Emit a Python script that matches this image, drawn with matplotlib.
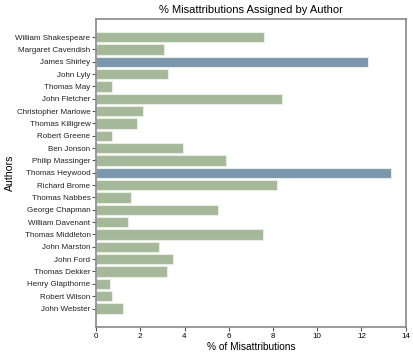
import matplotlib
matplotlib.use("Agg")
import matplotlib.pyplot as plt
import numpy as np

authors = ["William Shakespeare", "Margaret Cavendish", "James Shirley", "John Lyly",
           "Thomas May", "John Fletcher", "Christopher Marlowe", "Thomas Killigrew",
           "Robert Greene", "Ben Jonson", "Philip Massinger", "Thomas Heywood",
           "Richard Brome", "Thomas Nabbes", "George Chapman", "William Davenant",
           "Thomas Middleton", "John Marston", "John Ford", "Thomas Dekker",
           "Henry Glapthorne", "Robert Wilson", "John Webster"]
pct = [7.6, 3.08, 12.28, 3.26, 0.72, 8.42, 2.11, 1.87, 0.71, 3.94, 5.89, 13.35,
       8.16, 1.57, 5.53, 1.45, 7.54, 2.85, 3.5, 3.2, 0.65, 0.72, 1.24]
highlight = ["James Shirley", "Thomas Heywood"]

plt.rcParams['font.family'] = ['Liberation Sans', 'DejaVu Sans']

fig = plt.figure(figsize=(4.14, 3.57), dpi=100)
ax = fig.add_axes([0.232, 0.084, 0.748, 0.864])

y = np.arange(len(authors))
colors = ['#7b96ad' if a in highlight else '#a5b899' for a in authors]
ax.barh(y, pct, height=0.85, color=colors, edgecolor='#e8eee4', linewidth=0.8)

ax.set_yticks(y)
ax.set_yticklabels(authors, fontsize=5.8, color='#222222')
ax.set_ylim(len(authors) + 0.5, -1.5)
ax.set_xlim(0, 14)
ax.set_xticks(np.arange(0, 15, 2))
ax.tick_params(axis='x', labelsize=5.8, length=3, width=0.8, color='#555555', pad=1)
ax.tick_params(axis='y', length=3, width=0.8, color='#555555', pad=1)

for s in ax.spines.values():
    s.set_color('#888888')
    s.set_linewidth(1.2)

ax.set_xlabel('% of Misattributions', fontsize=7.3, labelpad=2)
ax.set_ylabel('Authors', fontsize=7.6)
ax.yaxis.set_label_coords(-0.262, 0.5)
ax.set_title('% Misattributions Assigned by Author', fontsize=8, pad=4)

fig.savefig('out.png', dpi=100)
